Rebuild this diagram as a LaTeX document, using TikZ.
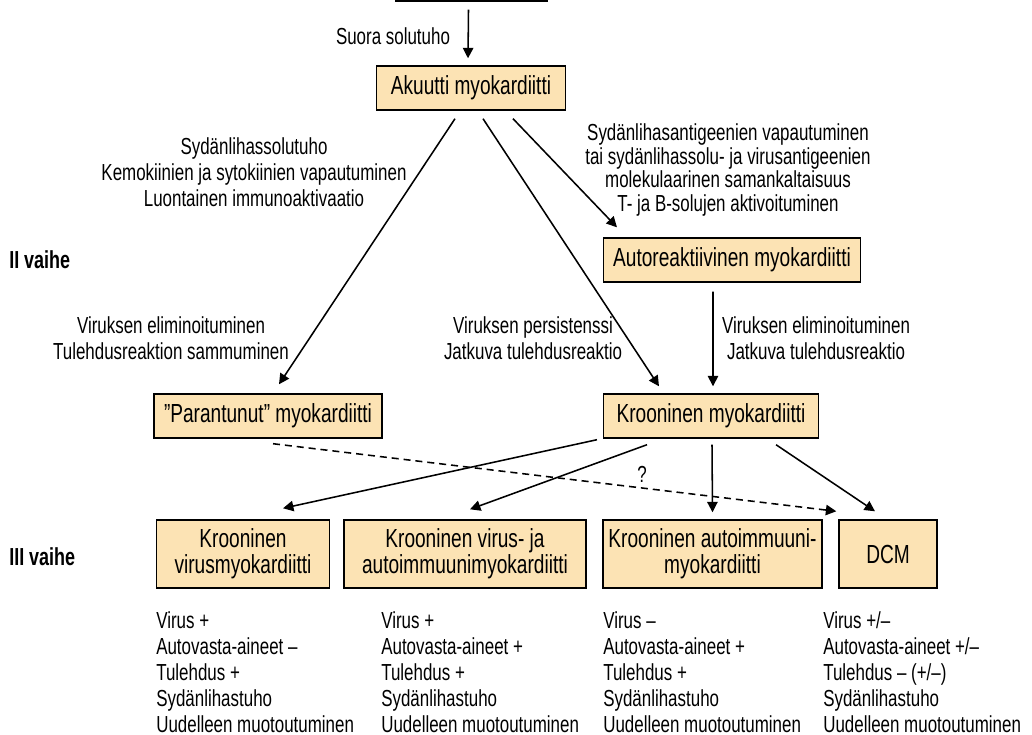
\documentclass[tikz,border=0pt]{standalone}
\usepackage{fontspec}
\setmainfont[FakeStretch=0.73]{Liberation Sans}
\usepackage{tikz}
\usetikzlibrary{arrows.meta, positioning, calc}
\definecolor{peach}{RGB}{252,227,180}
\tikzset{
  box/.style={rectangle, draw=black, fill=peach, line width=1pt,
              minimum height=1.1cm, inner sep=2pt, align=center,
              font=\fontsize{18.6}{18.5}\selectfont},
  lowbox/.style={box, minimum height=1.7cm},
  lbl/.style={inner sep=0pt, align=center, font=\fontsize{16.5}{18.5}\selectfont},
  lst/.style={inner sep=0pt, align=left, anchor=north west,
              font=\fontsize{16.5}{18.5}\selectfont},
  fase/.style={inner sep=0pt, anchor=west, font=\fontsize{17.5}{19}\selectfont\bfseries},
  arc/.style={-{Triangle[length=2.6mm, width=2.6mm]}, line width=1.1pt}
}

\begin{document}
\begin{tikzpicture}[x=0.025cm, y=-0.025cm]
  \useasboundingbox (0,0) rectangle (1032,735);
  % boxes
  \node[draw, line width=1pt, minimum width=3.78cm, minimum height=1.25cm] (top) at (471.5,-24) {};
  \node[box, minimum width=4.72cm] (akuutti) at (471,88) {Akuutti myokardiitti};
  \node[box, minimum width=6.42cm] (auto) at (732,260) {Autoreaktiivinen myokardiitti};
  \node[box, minimum width=5.7cm] (par) at (268,416) {”Parantunut” myokardiitti};
  \node[box, minimum width=5.37cm] (kroon) at (711,416) {Krooninen myokardiitti};
  \node[lowbox, minimum width=4.32cm] (virus) at (243,554) {Krooninen\\virusmyokardiitti};
  \node[lowbox, minimum width=6.05cm] (viraut) at (465,554) {Krooninen virus- ja\\autoimmuunimyokardiitti};
  \node[lowbox, minimum width=5.47cm] (autoim) at (712.5,554) {Krooninen autoimmuuni-\\myokardiitti};
  \node[lowbox, minimum width=2.45cm] (dcm) at (888,554) {DCM};

  \node[fase] (f2) at (9,260) {II vaihe};
  \node[fase] (f3) at (9,557) {III vaihe};

  % labels
  \node[lbl] (l0) at (393,36) {Suora solutuho};
  \node[lbl] (l1) at (254,172) {Sydänlihassolutuho\\Kemokiinien ja sytokiinien vapautuminen\\Luontainen immunoaktivaatio};
  \node[lbl, font=\fontsize{16.5}{17}\selectfont] (l2) at (728,170) {Sydänlihasantigeenien vapautuminen\\tai sydänlihassolu- ja virusantigeenien\\molekulaarinen samankaltaisuus\\T- ja B-solujen aktivoituminen};
  \node[lbl] (l3) at (171,338) {Viruksen eliminoituminen\\Tulehdusreaktion sammuminen};
  \node[lbl] (l4) at (533,338) {Viruksen persistenssi\\Jatkuva tulehdusreaktio};
  \node[lbl] (l5) at (816,338) {Viruksen eliminoituminen\\Jatkuva tulehdusreaktio};
  \node[lbl] (q) at (642,474) {?};

  % arrows
  \draw[arc] ([xshift=-0.075cm, yshift=-0.2cm]top.south) -- ([xshift=-0.075cm, yshift=0.175cm]akuutti.north);
  \draw[arc] ([xshift=-0.4cm, yshift=-0.2cm]akuutti.south) -- ([xshift=0.275cm, yshift=0.225cm]par.north);
  \draw[arc] ([xshift=0.3cm, yshift=-0.2cm]akuutti.south) -- ([xshift=-1.3cm, yshift=0.175cm]kroon.north);
  \draw[arc] ([xshift=1.05cm, yshift=-0.2cm]akuutti.south) -- ([xshift=-2.875cm, yshift=0.25cm]auto.north);
  \draw[arc] ([xshift=-0.475cm, yshift=-0.225cm]auto.south) -- ([xshift=0.05cm, yshift=0.175cm]kroon.north);
  \draw[arc] ([xshift=-2.85cm, yshift=-0.025cm]kroon.south) -- ([xshift=1cm, yshift=0.275cm]virus.north);
  \draw[arc] ([xshift=-1.6cm, yshift=-0.15cm]kroon.south) -- ([xshift=0.125cm, yshift=0.25cm]viraut.north);
  \draw[arc] ([xshift=0.025cm, yshift=-0.15cm]kroon.south) -- ([yshift=0.175cm]autoim.north);
  \draw[arc] ([xshift=1.625cm, yshift=-0.15cm]kroon.south) -- ([xshift=-0.325cm, yshift=0.2cm]dcm.north);
  \draw[arc, dash pattern=on 5pt off 3.5pt] ([xshift=0.125cm, yshift=-0.125cm]par.south) -- ([xshift=-0.05cm, yshift=0.2cm]dcm.north west);

  % findings below each box
  \foreach \x/\v/\a/\t in {156/{+}/{–}/{+}, 381/{+}/{+}/{+}, 603/{–}/{+}/{+}, 823/{+/–}/{+/–}/{– (+/–)}}
    \node[lst] at (\x,611) {Virus \v\\Autovasta-aineet \a\\Tulehdus \t\\Sydänlihastuho\\Uudelleen muotoutuminen};
\end{tikzpicture}
\end{document}
